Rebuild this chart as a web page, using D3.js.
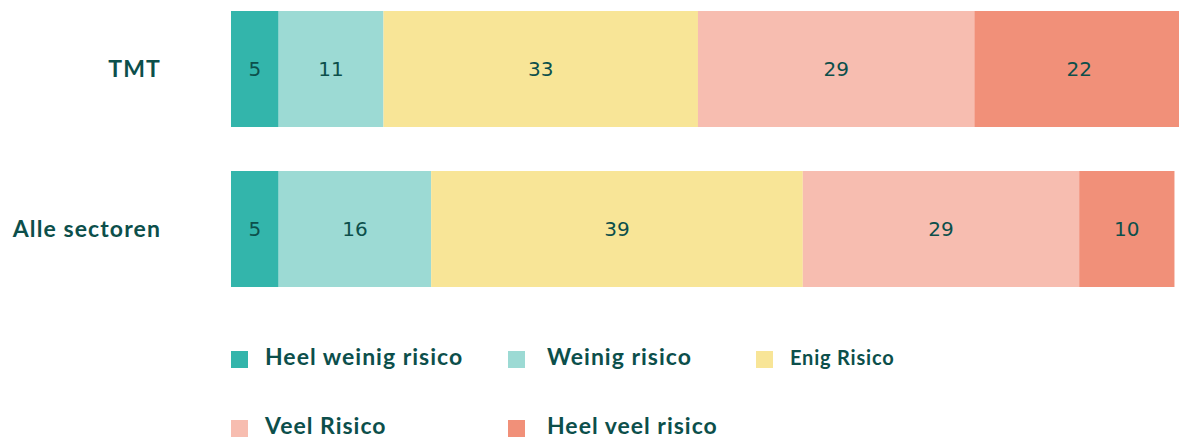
<!DOCTYPE html>
<html>
<head>
<meta charset="utf-8">
<script src="https://cdn.jsdelivr.net/npm/d3@7"></script>
<style>
  body { margin: 0; background: #fff; }
  svg { display: block; }
</style>
</head>
<body>
<div id="chart"></div>
<script>
// data
const categories = ["TMT", "Alle sectoren"];
const series = ["Heel weinig risico", "Weinig risico", "Enig Risico", "Veel Risico", "Heel veel risico"];
const tmtValues = [5, 11, 33, 29, 22];
const alleValues = [5, 16, 39, 29, 10];
const colors = ["#33b5ab", "#9cdad4", "#f8e597", "#f7bdb0", "#f19079"];

const textColor = "#0c4f4b";

const width = 1179, height = 437;

const svg = d3.select("#chart")
    .append("svg")
    .attr("width", width)
    .attr("height", height);

const rows = categories.map((c, i) => {
    const vals = i === 0 ? tmtValues : alleValues;
    const obj = { category: c };
    series.forEach((s, j) => obj[s] = vals[j]);
    return obj;
});

const stacked = d3.stack().keys(series)(rows);

// x runs a bit past the window edge, like the original
const x = d3.scaleLinear().domain([0, 100]).range([231, 1184]);
const y = d3.scaleBand().domain(categories).range([11, 287]).paddingInner(0.275).paddingOuter(0);

const color = d3.scaleOrdinal().domain(series).range(colors);

const layers = svg.selectAll("g.layer")
    .data(stacked)
    .enter()
    .append("g")
    .attr("class", "layer")
    .attr("fill", d => color(d.key));

layers.selectAll("rect")
    .data(d => d)
    .enter()
    .append("rect")
    .attr("x", d => x(d[0]))
    .attr("y", d => y(d.data.category))
    .attr("width", d => x(d[1]) - x(d[0]))
    .attr("height", y.bandwidth());

// value labels
layers.selectAll("text")
    .data(d => d.map(v => Object.assign({ key: d.key }, v)))
    .enter()
    .append("text")
    .attr("x", d => (x(d[0]) + x(d[1])) / 2)
    .attr("y", d => y(d.data.category) + y.bandwidth() / 2)
    .attr("dy", "0.36em")
    .attr("text-anchor", "middle")
    .attr("font-family", "DejaVu Sans, sans-serif")
    .attr("font-size", "20px")
    .attr("fill", textColor)
    .text(d => d[1] - d[0]);

// category labels
svg.selectAll("text.cat")
    .data(categories)
    .enter()
    .append("text")
    .attr("class", "cat")
    .attr("x", 161)
    .attr("y", d => y(d) + y.bandwidth() / 2)
    .attr("dy", "0.36em")
    .attr("text-anchor", "end")
    .attr("font-family", "Lato, sans-serif")
    .attr("font-weight", "bold")
    .attr("font-size", "23px")
    .attr("letter-spacing", "1.1px")
    .attr("fill", textColor)
    .text(d => d);

// legend
const legendCols = [231, 508, 756];
const legendRows = [351, 420];
const legendSize = 17;

const legend = svg.selectAll("g.legend-item")
    .data(series)
    .enter()
    .append("g")
    .attr("class", "legend-item")
    .attr("transform", (d, i) => "translate(" + legendCols[i % 3] + "," + legendRows[Math.floor(i / 3)] + ")");

legend.append("rect")
    .attr("width", legendSize)
    .attr("height", legendSize)
    .attr("fill", d => color(d));

legend.append("text")
    .attr("x", (d, i) => i % 3 === 1 ? 39 : 34)
    .attr("y", 14)
    .attr("font-family", "Lato, sans-serif")
    .attr("font-weight", "bold")
    .attr("font-size", d => d === "Enig Risico" ? "20px" : "23px")
    .attr("letter-spacing", d => d === "Enig Risico" ? "0.8px" : "1px")
    .attr("fill", textColor)
    .text(d => d);
</script>
</body>
</html>
